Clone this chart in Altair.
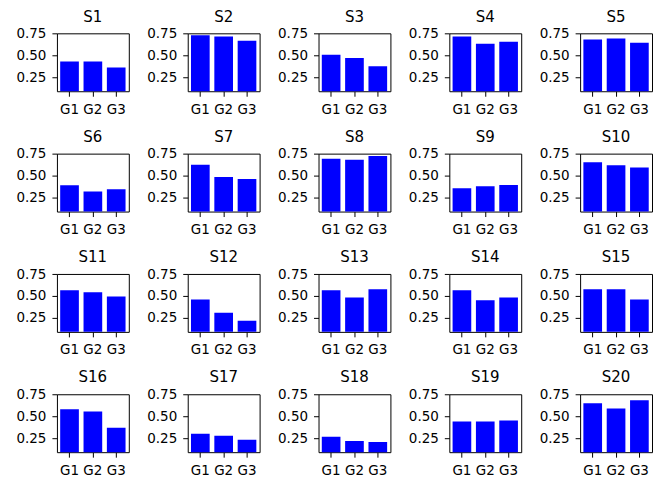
import altair as alt
import pandas as pd

series = [f"S{i}" for i in range(1, 21)]
groups = ["G1", "G2", "G3"]
g1 = [0.43, 0.73, 0.506, 0.716, 0.68, 0.389, 0.626, 0.694, 0.355, 0.652,
      0.566, 0.46, 0.566, 0.566, 0.577, 0.58, 0.298, 0.265, 0.439, 0.65]
g2 = [0.43, 0.716, 0.468, 0.633, 0.694, 0.318, 0.483, 0.682, 0.378, 0.618,
      0.543, 0.306, 0.483, 0.45, 0.577, 0.554, 0.276, 0.216, 0.439, 0.59]
g3 = [0.36, 0.667, 0.374, 0.656, 0.645, 0.344, 0.46, 0.724, 0.393, 0.592,
      0.494, 0.216, 0.577, 0.483, 0.46, 0.369, 0.231, 0.205, 0.45, 0.683]
y_ticks = [0.25, 0.50, 0.75]

rows = []
for i, s in enumerate(series):
    for g, vals in zip(groups, [g1, g2, g3]):
        rows.append({"series": s, "group": g, "value": vals[i]})
df = pd.DataFrame(rows)

base = alt.Chart(df).mark_bar(color="#0000ff", clip=True).encode(
    x=alt.X("group:N", sort=groups, title=None,
            scale=alt.Scale(paddingInner=0.2, paddingOuter=0.14),
            axis=alt.Axis(labelAngle=0)),
    y=alt.Y("value:Q", title=None,
            scale=alt.Scale(domain=[0.088, 0.752], nice=False, zero=False),
            axis=alt.Axis(values=y_ticks, format=".2f")),
).properties(width=72, height=58)

chart = base.facet(
    facet=alt.Facet("series:N", sort=series, title=None,
                    header=alt.Header(labelFontSize=15, labelFont="DejaVu Sans",
                                      labelColor="black", labelPadding=2,
                                      labelFontWeight="normal")),
    columns=5,
    spacing={"row": 12.5, "column": 16},
).resolve_axis(x="independent", y="independent").configure_view(
    stroke="black", strokeWidth=1
).configure_axis(
    grid=False, domain=False, tickColor="black", labelColor="black",
    labelFont="DejaVu Sans", labelFontSize=13.5, tickSize=5, labelPadding=6,
).properties(padding={"left": 7, "top": 0, "right": 0, "bottom": 0})

chart.save("out.html", embed_options={"renderer": "svg", "actions": False})
